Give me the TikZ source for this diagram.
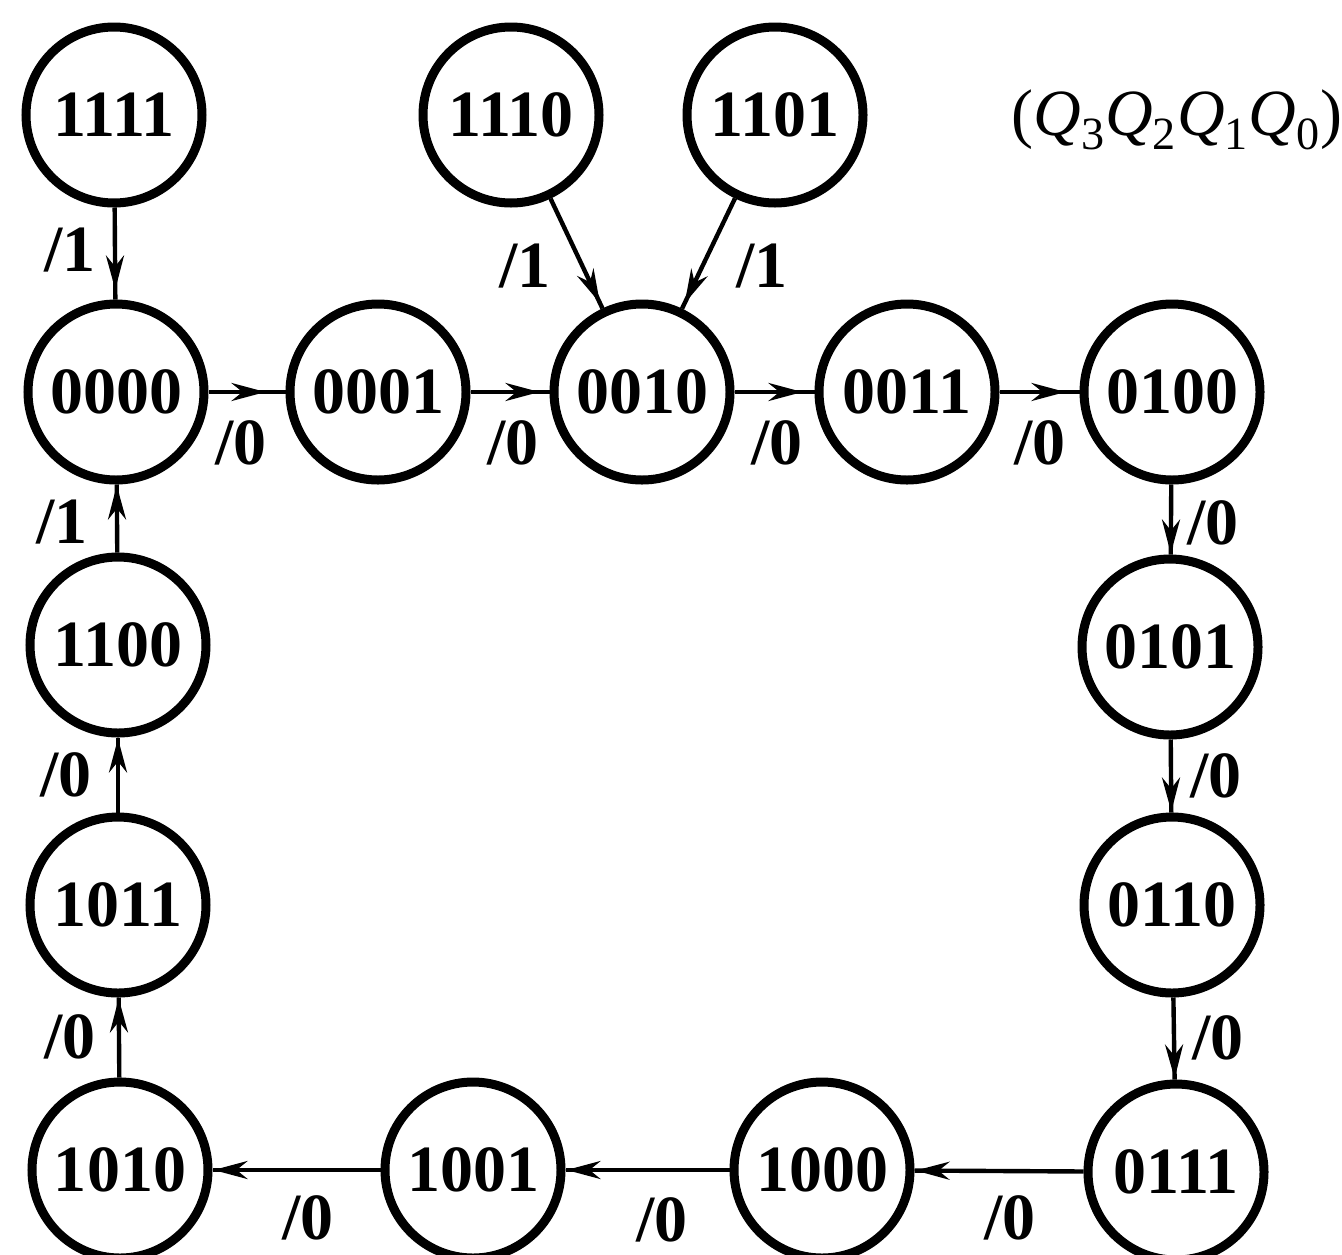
\documentclass[tikz,border=0pt]{standalone}
\usepackage{fontspec}
\setmainfont{Liberation Serif}
\usetikzlibrary{arrows.meta,decorations.markings}
\begin{document}
\begin{tikzpicture}[x=0.5pt,y=-0.5pt,
  state/.style={circle,draw,line width=4.5pt,minimum size=88pt,inner sep=0pt,
    font=\fontsize{33}{39}\selectfont\bfseries},
  lbl/.style={font=\fontsize{33}{39}\selectfont\bfseries,inner sep=0pt},
  conn/.style={line width=2.2pt,postaction={decorate},
    decoration={markings,mark=at position #1 with {\arrow{Stealth[length=17pt,width=9pt]}}}},
  conn/.default=-0.5pt]
\useasboundingbox (0,0) rectangle (1342,1254);
% top row
\node[state] (s1111) at (114,115) {1111};
\node[state] (s1110) at (511,115) {1110};
\node[state] (s1101) at (775,115) {1101};
% second row
\node[state] (s0000) at (116,392) {0000};
\node[state] (s0001) at (378,392) {0001};
\node[state] (s0010) at (642,392) {0010};
\node[state] (s0011) at (907,392) {0011};
\node[state] (s0100) at (1172,392) {0100};
% left column
\node[state] (s1100) at (118,645) {1100};
\node[state] (s1011) at (118,905) {1011};
\node[state] (s1010) at (120,1170) {1010};
% right column
\node[state] (s0101) at (1170,647) {0101};
\node[state] (s0110) at (1172,905) {0110};
\node[state] (s0111) at (1176,1172) {0111};
% bottom row
\node[state] (s1001) at (473,1170) {1001};
\node[state] (s1000) at (822,1170) {1000};
% code label
\node[inner sep=0pt] (code) at (1177,120) {\fontsize{33}{39}\selectfont(\textit{Q}\textsubscript{3}\textit{Q}\textsubscript{2}\textit{Q}\textsubscript{1}\textit{Q}\textsubscript{0})};
% connectors
\draw[conn=-5pt] (s1111) -- (s0000);
\draw[conn=-3pt] (s1110) -- (s0010);
\draw[conn=-3pt] (s1101) -- (s0010);
\draw[conn=-10pt] (s0000) -- (s0001);
\draw[conn=-5pt] (s0001) -- (s0010);
\draw[conn=-6pt] (s0010) -- (s0011);
\draw[conn=-7pt] (s0011) -- (s0100);
\draw[conn] (s0100) -- (s0101);
\draw[conn] (s0101) -- (s0110);
\draw[conn] (s0110) -- (s0111);
\draw[conn] (s0111) -- (s1000);
\draw[conn] (s1000) -- (s1001);
\draw[conn] (s1001) -- (s1010);
\draw[conn] (s1010) -- (s1011);
\draw[conn] (s1011) -- (s1100);
\draw[conn] (s1100) -- (s0000);
% labels
\node[lbl] (l1) at (70,250) {/1};
\node[lbl] (l2) at (525,266) {/1};
\node[lbl] (l3) at (762,266) {/1};
\node[lbl] (l4) at (241,443) {/0};
\node[lbl] (l5) at (513,443) {/0};
\node[lbl] (l6) at (777,443) {/0};
\node[lbl] (l7) at (1040,443) {/0};
\node[lbl] (l8) at (1213,523) {/0};
\node[lbl] (l9) at (1216,776) {/0};
\node[lbl] (l10) at (1218,1038) {/0};
\node[lbl] (l11) at (1010,1218) {/0};
\node[lbl] (l12) at (662,1220) {/0};
\node[lbl] (l13) at (308,1218) {/0};
\node[lbl] (l14) at (70,1037) {/0};
\node[lbl] (l15) at (66,775) {/0};
\node[lbl] (l16) at (62,522) {/1};
\end{tikzpicture}
\end{document}
